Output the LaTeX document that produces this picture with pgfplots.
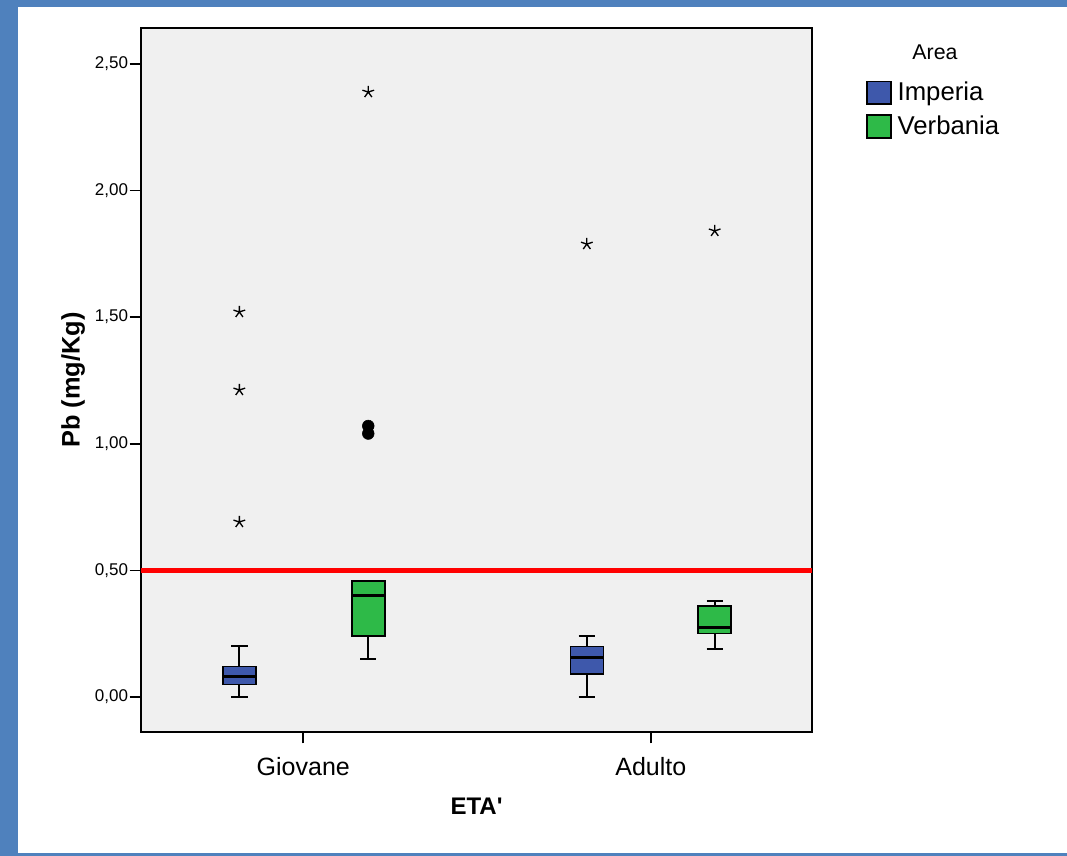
\documentclass[border=0pt]{standalone}
\usepackage{pgfplots}
\pgfplotsset{compat=1.18}
\usepgfplotslibrary{statistics}
\usepackage{fontspec}
\setmainfont{Liberation Sans}
\newfontfamily\plainsans{Liberation Sans}
\definecolor{impblue}{RGB}{62,88,171}
\definecolor{vergreen}{RGB}{46,186,72}
\definecolor{bggray}{RGB}{240,240,240}
\definecolor{frameblue}{RGB}{79,129,189}
\pgfplotsset{sqlegend/.style={legend image code/.code={\draw[##1] (0pt,-8.6pt) rectangle (18pt,8.6pt);}}}
\begin{document}
\begin{tikzpicture}
\fill[white] (0,0) rectangle (800.25pt,642pt);
\fill[frameblue] (0,0) rectangle (13.5pt,642pt);
\fill[frameblue] (0,636.75pt) rectangle (800.25pt,642pt);
\fill[frameblue] (0,0) rectangle (800.25pt,2.25pt);
\begin{axis}[
  at={(105.75pt,93pt)}, anchor=south west,
  scale only axis, width=503.25pt, height=528pt,
  xmin=0.533, xmax=2.464, ymin=-0.138, ymax=2.641,
  axis background/.style={fill=bggray},
  axis line style={line width=1.1pt, black},
  tick align=outside, major tick length=8.5pt,
  tick style={line width=1.3pt, black},
  every tick/.append style={line width=1.3pt, black},
  xtick pos=lower, ytick pos=left,
  xtick={1,2}, xticklabels={Giovane,Adulto},
  ytick={0,0.5,1,1.5,2,2.5},
  /pgf/number format/fixed, /pgf/number format/fixed zerofill, /pgf/number format/precision=2,
  /pgf/number format/use comma, /pgf/number format/assume math mode=true,
  yticklabel style={font=\fontsize{12.75}{15}\selectfont, inner sep=1pt},
  xticklabel style={font=\fontsize{18.75}{22}\selectfont, yshift=-7pt},
  xlabel={{\plainsans\bfseries ETA'}}, ylabel={\textbf{Pb (mg/Kg)}},
  xlabel style={font=\fontsize{18}{21}\selectfont, at={(axis description cs:0.5,-0.105)}, anchor=center},
  ylabel style={font=\fontsize{19}{22}\selectfont, at={(axis description cs:-0.1013,0.5)}, anchor=center},
  boxplot/draw direction=y,
  legend style={at={(axis description cs:1.0805,0.927)}, anchor=north west, draw=none, fill=none, inner sep=0pt,
    font=\fontsize{19.3}{22}\selectfont, row sep=6pt, nodes={inner xsep=4.5pt}},
  legend cell align=left,
  after end axis/.code={\node[font=\fontsize{16}{19}\selectfont, anchor=center] at (axis description cs:1.1833,0.9659) {Area};},
]
\addlegendimage{sqlegend, fill=impblue, draw=black, line width=1pt}
\addlegendentry{Imperia}
\addlegendimage{sqlegend, fill=vergreen, draw=black, line width=1pt}
\addlegendentry{Verbania}

% reference line
\addplot[red, line width=3.6pt, forget plot] coordinates {(0.533,0.5) (2.464,0.5)};

% boxes
\addplot[forget plot, draw=black, fill=impblue, line width=1.2pt,
  boxplot/every median/.style={draw=black, line width=2.3pt},
  boxplot/every whisker/.style={draw=black, line width=1.6pt},
  boxplot prepared={draw position=0.816, lower whisker=0, lower quartile=0.050, median=0.080, upper quartile=0.120, upper whisker=0.200, box extend=0.095, whisker extend=0.047}] coordinates {};
\addplot[forget plot, draw=black, fill=vergreen, line width=1.2pt,
  boxplot/every median/.style={draw=black, line width=2.3pt},
  boxplot/every whisker/.style={draw=black, line width=1.6pt},
  boxplot prepared={draw position=1.187, lower whisker=0.151, lower quartile=0.240, median=0.400, upper quartile=0.459, upper whisker=0.459, box extend=0.095, whisker extend=0.047}] coordinates {};
\addplot[forget plot, draw=black, fill=impblue, line width=1.2pt,
  boxplot/every median/.style={draw=black, line width=2.3pt},
  boxplot/every whisker/.style={draw=black, line width=1.6pt},
  boxplot prepared={draw position=1.816, lower whisker=0, lower quartile=0.090, median=0.155, upper quartile=0.200, upper whisker=0.240, box extend=0.095, whisker extend=0.047}] coordinates {};
\addplot[forget plot, draw=black, fill=vergreen, line width=1.2pt,
  boxplot/every median/.style={draw=black, line width=2.3pt},
  boxplot/every whisker/.style={draw=black, line width=1.6pt},
  boxplot prepared={draw position=2.184, lower whisker=0.189, lower quartile=0.251, median=0.275, upper quartile=0.359, upper whisker=0.379, box extend=0.095, whisker extend=0.047}] coordinates {};

% extreme outliers (stars)
\addplot[forget plot, only marks, mark=star, mark size=4.6pt, black, mark options={line width=1pt}] coordinates {
  (0.816,0.691) (0.816,1.212) (0.816,1.520)
  (1.187,2.388)
  (1.816,1.788)
  (2.184,1.840)
};
% outliers (circles)
\addplot[forget plot, only marks, mark=*, mark size=4.4pt, black] coordinates {
  (1.187,1.040) (1.187,1.070)
};
\end{axis}
\end{tikzpicture}
\end{document}
